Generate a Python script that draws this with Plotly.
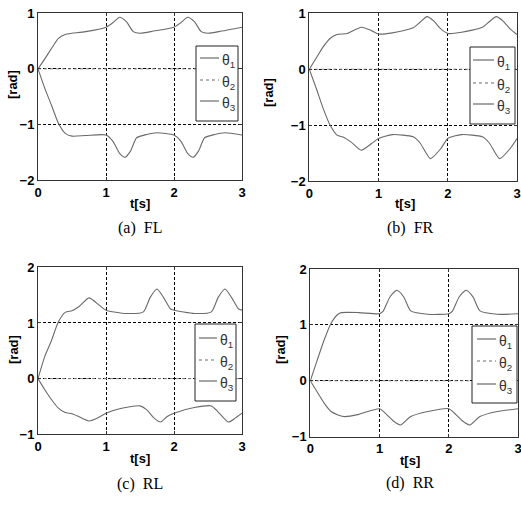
import plotly.graph_objects as go

# ---------------- data ----------------
FL_t1 = [0, 0.1, 0.2, 0.3, 0.4, 0.5, 0.7, 1.0, 1.1, 1.2, 1.3, 1.4, 1.5, 1.7, 2.0, 2.1, 2.2, 2.3, 2.4, 2.5, 2.7, 3.0]
FL_theta1 = [0, 0.18, 0.37, 0.55, 0.62, 0.64, 0.67, 0.75, 0.83, 0.93, 0.85, 0.67, 0.64, 0.68, 0.75, 0.83, 0.93, 0.85, 0.67, 0.64, 0.68, 0.75]
FL_t3 = [0, 0.1, 0.2, 0.3, 0.4, 0.5, 0.7, 1.0, 1.1, 1.2, 1.28, 1.36, 1.45, 1.6, 1.75, 2.0, 2.1, 2.2, 2.28, 2.36, 2.45, 2.6, 2.75, 3.0]
FL_theta3 = [0, -0.35, -0.66, -0.98, -1.16, -1.21, -1.2, -1.19, -1.3, -1.52, -1.59, -1.48, -1.24, -1.18, -1.15, -1.19, -1.3, -1.52, -1.59, -1.48, -1.24, -1.18, -1.15, -1.19]

FR_t1 = [0, 0.1, 0.2, 0.3, 0.4, 0.55, 0.75, 0.9, 1.0, 1.2, 1.5, 1.6, 1.7, 1.8, 1.9, 2.0, 2.2, 2.5, 2.6, 2.7, 2.8, 2.9, 3.0]
FR_theta1 = [0, 0.2, 0.4, 0.55, 0.62, 0.64, 0.75, 0.69, 0.63, 0.65, 0.74, 0.84, 0.94, 0.86, 0.72, 0.64, 0.66, 0.75, 0.85, 0.94, 0.86, 0.72, 0.62]
FR_t3 = [0, 0.1, 0.2, 0.3, 0.4, 0.5, 0.6, 0.75, 0.9, 1.0, 1.2, 1.5, 1.6, 1.75, 1.9, 2.0, 2.2, 2.5, 2.6, 2.75, 2.9, 3.0]
FR_theta3 = [0, -0.34, -0.7, -1.0, -1.18, -1.22, -1.3, -1.45, -1.33, -1.24, -1.17, -1.21, -1.32, -1.6, -1.42, -1.24, -1.17, -1.21, -1.32, -1.6, -1.42, -1.24]

RL_t1 = [0, 0.1, 0.2, 0.3, 0.4, 0.5, 0.6, 0.75, 0.9, 1.0, 1.3, 1.55, 1.65, 1.75, 1.85, 1.95, 2.0, 2.3, 2.55, 2.65, 2.75, 2.85, 2.95, 3.0]
RL_theta1 = [0, 0.4, 0.69, 1.02, 1.19, 1.22, 1.29, 1.45, 1.32, 1.23, 1.17, 1.2, 1.46, 1.61, 1.45, 1.25, 1.23, 1.17, 1.2, 1.46, 1.61, 1.45, 1.25, 1.23]
RL_t3 = [0, 0.1, 0.2, 0.3, 0.4, 0.5, 0.6, 0.75, 0.9, 1.0, 1.2, 1.5, 1.6, 1.7, 1.8, 1.9, 2.0, 2.3, 2.55, 2.65, 2.8, 2.9, 3.0]
RL_theta3 = [0, -0.2, -0.38, -0.53, -0.61, -0.63, -0.68, -0.76, -0.69, -0.62, -0.54, -0.49, -0.56, -0.7, -0.78, -0.68, -0.62, -0.52, -0.49, -0.6, -0.78, -0.71, -0.62]

RR_t1 = [0, 0.1, 0.2, 0.3, 0.4, 0.45, 0.7, 1.0, 1.05, 1.15, 1.25, 1.35, 1.45, 1.7, 2.0, 2.05, 2.15, 2.25, 2.35, 2.45, 2.7, 3.0]
RR_theta1 = [0, 0.37, 0.73, 1.03, 1.19, 1.22, 1.22, 1.2, 1.24, 1.5, 1.62, 1.5, 1.25, 1.19, 1.2, 1.24, 1.5, 1.62, 1.5, 1.25, 1.19, 1.2]
RR_t3 = [0, 0.1, 0.2, 0.3, 0.4, 0.5, 0.7, 1.0, 1.1, 1.2, 1.3, 1.45, 1.7, 2.0, 2.1, 2.2, 2.3, 2.45, 2.7, 3.0]
RR_theta3 = [0, -0.2, -0.4, -0.55, -0.61, -0.64, -0.6, -0.5, -0.6, -0.72, -0.79, -0.64, -0.55, -0.5, -0.6, -0.72, -0.79, -0.64, -0.55, -0.5]

theta2_t = [0, 3]
theta2_v = [0, 0]

captions = ["(a)  FL", "(b)  FR", "(c)  RL", "(d)  RR"]
y_ranges = [[-2, 1], [-2, 1], [-1, 2], [-1, 2]]
y_ticks = [[-2, -1, 0, 1], [-2, -1, 0, 1], [-1, 0, 1, 2], [-1, 0, 1, 2]]
x_ticks = [0, 1, 2, 3]
legend_labels = ["θ<sub>1</sub>", "θ<sub>2</sub>", "θ<sub>3</sub>"]

panels = [
    (FL_t1, FL_theta1, FL_t3, FL_theta3),
    (FR_t1, FR_theta1, FR_t3, FR_theta3),
    (RL_t1, RL_theta1, RL_t3, RL_theta3),
    (RR_t1, RR_theta1, RR_t3, RR_theta3),
]

# ---------------- layout geometry (pixels) ----------------
W, H = 521, 507
boxes = [(38, 242, 13.3, 180), (309.3, 517, 13.3, 181),
         (38, 242, 267.3, 434.3), (310.3, 518, 269, 436.7)]
legboxes = [(196, 46, 238, 121, [58, 80, 101], 200, 219),
            (470, 47, 515, 124, [60, 83, 104], 473, 494),
            (195, 324, 236, 401, [338, 360, 381], 199, 217),
            (472, 326, 517, 403, [339, 361, 384], 477, 496)]
caption_pos = [(140, 228), (410, 228), (140, 484), (410, 483)]
ylab_pos = [(13, 85), (268, 93), (13, 350), (280, 350)]
xlab_pos = [(140, 203), (405, 203), (140, 458), (410, 460)]


def px(x):
    return x / W


def py(y):
    return 1 - y / H


LINE = "#6a6a6a"
fig = go.Figure()
shapes = []
annotations = []

for i, (t1, v1, t3, v3) in enumerate(panels):
    n = "" if i == 0 else str(i + 1)
    xa, ya = "x" + n, "y" + n
    fig.add_trace(go.Scatter(x=t1, y=v1, mode="lines", line=dict(color=LINE, width=1.1, shape="spline", smoothing=0.6),
                             xaxis=xa, yaxis=ya, showlegend=False, name="θ1"))
    fig.add_trace(go.Scatter(x=theta2_t, y=theta2_v, mode="lines", line=dict(color="#888888", width=1, dash="dot"),
                             xaxis=xa, yaxis=ya, showlegend=False, name="θ2"))
    fig.add_trace(go.Scatter(x=t3, y=v3, mode="lines", line=dict(color=LINE, width=1.1, shape="spline", smoothing=0.6),
                             xaxis=xa, yaxis=ya, showlegend=False, name="θ3"))

    l, r, t, b = boxes[i]
    axcommon = dict(showline=True, mirror="ticks", linecolor="#333333", linewidth=1,
                    ticks="inside", ticklen=3, tickcolor="#333333",
                    showgrid=True, gridcolor="black", gridwidth=1, griddash="3px,2px",
                    zeroline=False, automargin=False, ticklabeloverflow="allow",
                    tickfont=dict(family="Liberation Sans, Arial", size=13, color="black", weight="bold"))
    fig.update_layout(**{
        ("xaxis" + n): dict(domain=[px(l), px(r)], range=[0, 3], tickvals=x_ticks, anchor=ya, ticklabelstandoff=0,
                            **axcommon),
        ("yaxis" + n): dict(domain=[py(b), py(t)], range=y_ranges[i], tickvals=y_ticks[i], anchor=xa, ticklabelstandoff=0,
                            **axcommon),
    })

    # legend box
    x0, y0, x1, y1, iys, lx0, lx1 = legboxes[i]
    shapes.append(dict(type="rect", xref="paper", yref="paper", x0=px(x0), x1=px(x1), y0=py(y1), y1=py(y0),
                       line=dict(color="#222222", width=1), fillcolor="white", layer="above"))
    for k, yy in enumerate(iys):
        shapes.append(dict(type="line", xref="paper", yref="paper", x0=px(lx0), x1=px(lx1), y0=py(yy), y1=py(yy),
                           line=dict(color=LINE, width=1.2, dash="dot" if k == 1 else "solid"), layer="above"))
        annotations.append(dict(xref="paper", yref="paper", x=px(lx1 + 1), y=py(yy + 3), xanchor="left", yanchor="middle",
                                text=legend_labels[k], showarrow=False,
                                font=dict(family="Liberation Sans, Arial", size=14, color="#333333")))

    cx, cy = caption_pos[i]
    annotations.append(dict(xref="paper", yref="paper", x=px(cx), y=py(cy), xanchor="center", yanchor="middle",
                            text=captions[i], showarrow=False,
                            font=dict(family="Liberation Serif, Times New Roman", size=16, color="black")))
    lx, ly = ylab_pos[i]
    annotations.append(dict(xref="paper", yref="paper", x=px(lx), y=py(ly), xanchor="center", yanchor="middle",
                            text="[rad]", textangle=-90, showarrow=False,
                            font=dict(family="Liberation Sans, Arial", size=13, color="black", weight="bold")))
    tx, ty = xlab_pos[i]
    annotations.append(dict(xref="paper", yref="paper", x=px(tx), y=py(ty), xanchor="center", yanchor="middle",
                            text="t[s]", showarrow=False,
                            font=dict(family="Liberation Sans, Arial", size=13, color="black", weight="bold")))

fig.update_layout(width=W, height=H, margin=dict(l=0, r=0, t=0, b=0),
                  paper_bgcolor="white", plot_bgcolor="white",
                  shapes=shapes, annotations=annotations, showlegend=False)

fig.write_html("out.html", config={"displayModeBar": False},
               post_script="document.body.style.margin='0px';document.body.style.overflow='hidden';")
